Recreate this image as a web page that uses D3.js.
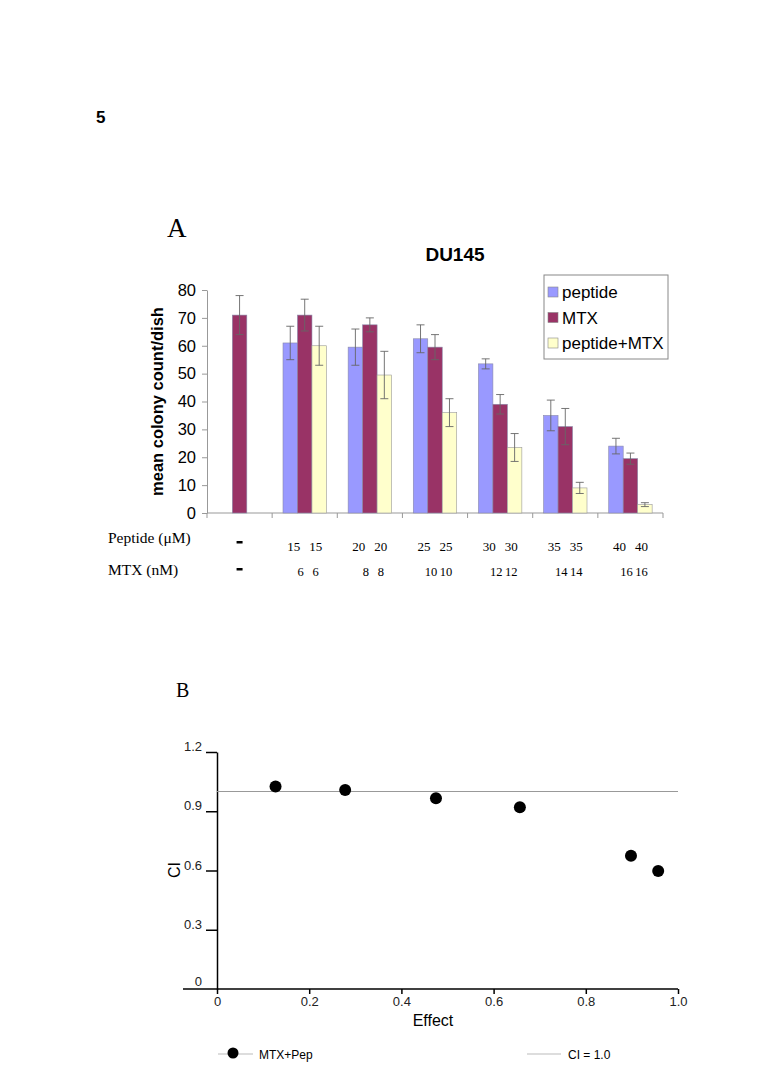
<!DOCTYPE html>
<html><head><meta charset="utf-8">
<script src="https://cdn.jsdelivr.net/npm/d3@7"></script>
<style>body{margin:0;background:#fff}svg{display:block}</style>
</head><body>
<svg id="c" width="768" height="1066"></svg>
<script>
// ---------- Data: panel A ----------
const groups = ["control","g15","g20","g25","g30","g35","g40"];
const peptideVals = [null, 61, 59.5, 62.5, 53.5, 35, 24];
const peptideErr  = [null, 6, 6.5, 5, 1.8, 5.5, 2.8];
const mtxVals     = [71, 71, 67.5, 59.5, 39, 31, 19.5];
const mtxErr      = [7, 5.7, 2.5, 4.5, 3.5, 6.5, 2];
const comboVals   = [null, 60, 49.5, 36, 23.5, 9, 3];
const comboErr    = [null, 7, 8.5, 5, 5, 2, 0.7];
const yTicksA = [0,10,20,30,40,50,60,70,80];
const seriesNames = ["peptide","MTX","peptide+MTX"];
const seriesColors = ["#9999ff","#993366","#ffffcc"];
const peptideDose = ["-","15","20","25","30","35","40"];
const mtxDose     = ["-","6","8","10","12","14","16"];

// ---------- Data: panel B ----------
const effect = [0.127, 0.278, 0.475, 0.657, 0.898, 0.957];
const ci     = [1.025, 1.007, 0.966, 0.92, 0.675, 0.597];
const ciRef = 1.0;
const xTicksB = [0,0.2,0.4,0.6,0.8,1.0];
const yTicksB = [0,0.3,0.6,0.9,1.2];

const svg = d3.select("#c");
const sans = "Arial, Liberation Sans";
const serif = "Liberation Serif, Times New Roman";

svg.append("text").attr("x",96).attr("y",123).attr("font-family",sans).attr("font-weight","bold").attr("font-size",17).text("5");

// ===== Panel A =====
const xA = d3.scaleBand().domain(groups).range([207,663]).paddingInner(0).paddingOuter(0);
const yA = d3.scaleLinear().domain([0,80]).range([513,290]);
const bw = xA.bandwidth()/4.5;

svg.append("text").attr("x",167).attr("y",237).attr("font-family",serif).attr("font-size",27).text("A");
svg.append("text").attr("x",455).attr("y",261).attr("text-anchor","middle").attr("font-family",sans).attr("font-weight","bold").attr("font-size",19).text("DU145");

// y axis
const gy = svg.append("g").attr("transform","translate(207,0)")
  .call(d3.axisLeft(yA).tickValues(yTicksA).tickSize(5).tickSizeOuter(0).tickPadding(6));
gy.select(".domain").attr("stroke","#999");
gy.selectAll(".tick line").attr("stroke","#999");
gy.selectAll(".tick text").attr("font-family",sans).attr("font-size",16.5).attr("fill","#000");

// x axis line with category ticks
svg.append("line").attr("x1",207).attr("x2",663).attr("y1",yA(0)).attr("y2",yA(0)).attr("stroke","#999");
const bounds = groups.map(g=>xA(g)).concat([xA.range()[1]]);
svg.selectAll(".xt").data(bounds).enter().append("line")
  .attr("x1",d=>d).attr("x2",d=>d).attr("y1",yA(0)).attr("y2",yA(0)+5).attr("stroke","#999");

svg.append("text").attr("transform","translate(163,"+((yA(0)+yA(80))/2)+") rotate(-90)")
  .attr("text-anchor","middle").attr("font-family",sans).attr("font-weight","bold").attr("font-size",16.5)
  .text("mean colony count/dish");

const series = [
  {vals: peptideVals, err: peptideErr, off:-1},
  {vals: mtxVals, err: mtxErr, off:0},
  {vals: comboVals, err: comboErr, off:1}
];
series.forEach((s,si)=>{
  const data = groups.map((g,i)=>({g, v:s.vals[i], e:s.err[i]})).filter(d=>d.v!==null);
  const cx = d=> xA(d.g)+xA.bandwidth()/2 + s.off*bw;
  svg.selectAll(".bar"+si).data(data).enter().append("rect")
    .attr("x",d=>cx(d)-bw/2).attr("width",bw)
    .attr("y",d=>yA(d.v)).attr("height",d=>yA(0)-yA(d.v))
    .attr("fill",seriesColors[si]).attr("stroke", si===2?"#999":"#8a8aaa").attr("stroke-width",0.6);
  const eg = svg.selectAll(".err"+si).data(data).enter().append("g").attr("stroke","#666").attr("stroke-width",0.9);
  eg.append("line").attr("x1",cx).attr("x2",cx).attr("y1",d=>yA(d.v+d.e)).attr("y2",d=>yA(d.v-d.e));
  eg.append("line").attr("x1",d=>cx(d)-4).attr("x2",d=>cx(d)+4).attr("y1",d=>yA(d.v+d.e)).attr("y2",d=>yA(d.v+d.e));
  eg.append("line").attr("x1",d=>cx(d)-4).attr("x2",d=>cx(d)+4).attr("y1",d=>yA(d.v-d.e)).attr("y2",d=>yA(d.v-d.e));
});

// legend A
svg.append("rect").attr("x",544).attr("y",275).attr("width",124).attr("height",84).attr("fill","#fff").attr("stroke","#888");
seriesNames.forEach((n,i)=>{
  const y = 292 + i*25.5;
  svg.append("rect").attr("x",548).attr("y",y-5).attr("width",10).attr("height",10).attr("fill",seriesColors[i]).attr("stroke","#888").attr("stroke-width",0.6);
  svg.append("text").attr("x",562).attr("y",y+6).attr("font-family",sans).attr("font-size",17).text(n);
});

// dose labels
svg.append("text").attr("x",108).attr("y",543).attr("font-family",serif).attr("font-size",15.5).text("Peptide (\u03bcM)");
svg.append("text").attr("x",108).attr("y",575).attr("font-family",serif).attr("font-size",15.5).text("MTX (nM)");
groups.forEach((g,i)=>{
  const c = xA(g)+xA.bandwidth()/2;
  if(i===0){
    [541,568].forEach(yy=>svg.append("rect").attr("x",c-3).attr("y",yy).attr("width",6).attr("height",2.5).attr("fill","#000"));
    return;
  }
  svg.append("text").attr("x",c-11).attr("y",551).attr("text-anchor","middle").attr("font-family",serif).attr("font-size",13).text(peptideDose[i]);
  svg.append("text").attr("x",c+11).attr("y",551).attr("text-anchor","middle").attr("font-family",serif).attr("font-size",13).text(peptideDose[i]);
  svg.append("text").attr("x",c-4).attr("y",576).attr("text-anchor","middle").attr("font-family",serif).attr("font-size",12.5).text(mtxDose[i]);
  svg.append("text").attr("x",c+11).attr("y",576).attr("text-anchor","middle").attr("font-family",serif).attr("font-size",12.5).text(mtxDose[i]);
});

// ===== Panel B =====
const xB = d3.scaleLinear().domain([0,1]).range([217,678]);
const yB = d3.scaleLinear().domain([0,1.2]).range([989,752]);

svg.append("text").attr("x",176).attr("y",697).attr("font-family",serif).attr("font-size",20).text("B");

const gyB = svg.append("g").attr("transform","translate(217,0)")
  .call(d3.axisLeft(yB).tickValues(yTicksB).tickSize(11).tickSizeOuter(0).tickPadding(4).tickFormat(d=>d===0?"0":d3.format(".1f")(d)));
gyB.select(".domain").attr("stroke","#000").attr("stroke-width",1.5);
gyB.selectAll(".tick line").attr("stroke","#000").attr("stroke-width",1.5);
gyB.selectAll(".tick text").attr("font-family",sans).attr("font-size",13).attr("fill","#222").attr("dy","-0.1em");
gyB.selectAll(".tick").filter(d=>d===0).select("line").remove();
gyB.selectAll(".tick").filter(d=>d===0).select("text").attr("dy","-0.25em");

svg.append("line").attr("x1",183).attr("x2",678).attr("y1",yB(0)).attr("y2",yB(0)).attr("stroke","#000").attr("stroke-width",1.5);
const gxB = svg.append("g").attr("transform","translate(0,"+yB(0)+")")
  .call(d3.axisBottom(xB).tickValues(xTicksB).tickSize(5).tickPadding(3).tickFormat(d=>d===0?"0":d3.format(".1f")(d)));
gxB.select(".domain").remove();
gxB.selectAll(".tick line").attr("stroke","#000").attr("stroke-width",1.5);
gxB.selectAll(".tick text").attr("font-family",sans).attr("font-size",13).attr("fill","#222");

svg.append("text").attr("x",433).attr("y",1026).attr("text-anchor","middle").attr("font-family",sans).attr("font-size",16).text("Effect");
svg.append("text").attr("transform","translate(180,870) rotate(-90)").attr("text-anchor","middle").attr("font-family",sans).attr("font-size",16).text("CI");

// CI reference line
svg.append("line").attr("x1",xB(0)).attr("x2",xB(1)).attr("y1",yB(ciRef)).attr("y2",yB(ciRef)).attr("stroke","#999").attr("stroke-width",1);

svg.selectAll(".pt").data(effect.map((e,i)=>({e,c:ci[i]}))).enter().append("circle")
  .attr("cx",d=>xB(d.e)).attr("cy",d=>yB(d.c)).attr("r",6).attr("fill","#000");

// legend B
svg.append("line").attr("x1",218).attr("x2",253).attr("y1",1054).attr("y2",1054).attr("stroke","#bbb").attr("stroke-width",1.2);
svg.append("circle").attr("cx",233).attr("cy",1053).attr("r",5.5).attr("fill","#000");
svg.append("text").attr("x",259).attr("y",1059).attr("font-family",sans).attr("font-size",12).text("MTX+Pep");
svg.append("line").attr("x1",527).attr("x2",561).attr("y1",1054).attr("y2",1054).attr("stroke","#bbb").attr("stroke-width",1.2);
svg.append("text").attr("x",568).attr("y",1059).attr("font-family",sans).attr("font-size",12).text("CI = 1.0");
</script>
</body></html>
